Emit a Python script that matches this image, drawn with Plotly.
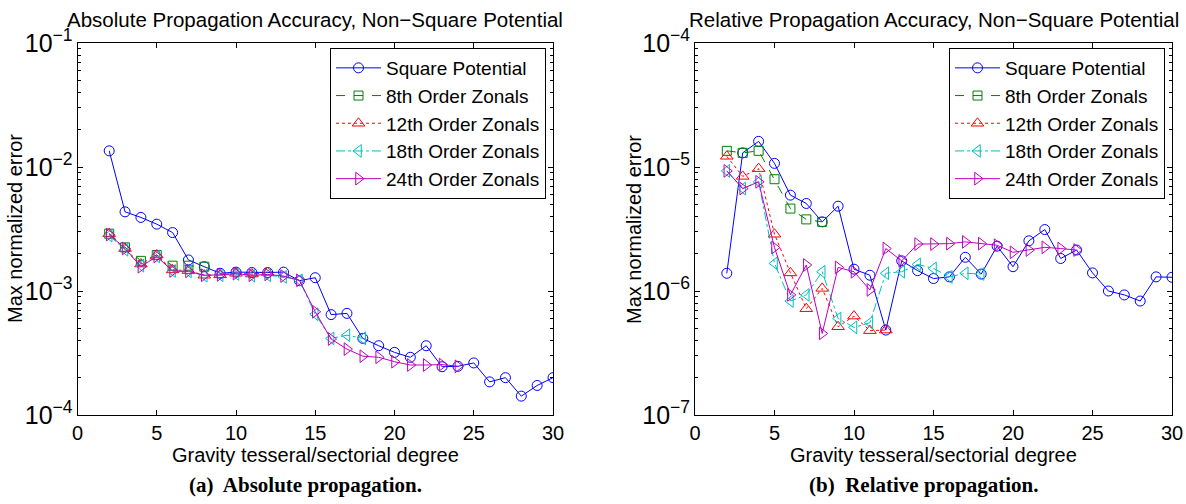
import plotly.graph_objects as go

# ---------------- data ----------------
deg_sq = list(range(2, 31))
deg_z8 = list(range(2, 9))
deg_z12 = list(range(2, 13))
deg_z18 = list(range(2, 19))
deg_z24 = list(range(2, 25))

series_names = ["Square Potential", "8th Order Zonals", "12th Order Zonals",
                "18th Order Zonals", "24th Order Zonals"]

# Absolute propagation
sq_abs = [1.35e-2, 4.35e-3, 3.92e-3, 3.46e-3, 2.96e-3, 1.78e-3, 1.57e-3, 1.39e-3,
          1.42e-3, 1.41e-3, 1.41e-3, 1.42e-3, 1.21e-3, 1.28e-3, 6.45e-4, 6.6e-4,
          4.15e-4, 3.62e-4, 3.2e-4, 2.92e-4, 3.62e-4, 2.45e-4, 2.47e-4, 2.63e-4,
          1.85e-4, 2.0e-4, 1.42e-4, 1.73e-4, 2.0e-4]
z8_abs = [2.9e-3, 2.25e-3, 1.75e-3, 1.95e-3, 1.6e-3, 1.6e-3, 1.57e-3]
z12_abs = [2.9e-3, 2.2e-3, 1.65e-3, 1.95e-3, 1.48e-3, 1.46e-3, 1.34e-3, 1.35e-3,
           1.39e-3, 1.37e-3, 1.41e-3]
z18_abs = [2.8e-3, 2.15e-3, 1.6e-3, 1.9e-3, 1.45e-3, 1.44e-3, 1.33e-3, 1.34e-3,
           1.37e-3, 1.33e-3, 1.34e-3, 1.30e-3, 1.22e-3, 6.5e-4, 4.15e-4, 4.4e-4, 4.15e-4]
z24_abs = [2.85e-3, 2.2e-3, 1.57e-3, 1.9e-3, 1.45e-3, 1.44e-3, 1.34e-3, 1.35e-3,
           1.38e-3, 1.34e-3, 1.36e-3, 1.32e-3, 1.22e-3, 6.8e-4, 4.1e-4, 3.4e-4,
           2.98e-4, 2.92e-4, 2.69e-4, 2.53e-4, 2.53e-4, 2.55e-4, 2.47e-4]

# Relative propagation
sq_rel = [1.39e-6, 1.30e-5, 1.61e-5, 1.07e-5, 5.93e-6, 5.08e-6, 3.61e-6, 4.83e-6,
          1.50e-6, 1.34e-6, 4.84e-7, 1.75e-6, 1.46e-6, 1.26e-6, 1.30e-6, 1.87e-6,
          1.37e-6, 2.30e-6, 1.57e-6, 2.54e-6, 3.13e-6, 1.83e-6, 2.14e-6, 1.40e-6,
          1.0e-6, 9.3e-7, 8.3e-7, 1.30e-6, 1.29e-6]
z8_rel = [1.35e-5, 1.30e-5, 1.35e-5, 7.97e-6, 4.62e-6, 3.78e-6, 3.61e-6]
z12_rel = [1.22e-5, 8.4e-6, 9.7e-6, 2.87e-6, 1.40e-6, 7.2e-7, 1.05e-6, 5.15e-7,
           6.28e-7, 4.79e-7, 4.84e-7]
z18_rel = [9.3e-6, 6.7e-6, 7.6e-6, 1.67e-6, 8.3e-7, 9.3e-7, 1.43e-6, 6.0e-7,
           5.09e-7, 5.55e-7, 1.39e-6, 1.43e-6, 1.64e-6, 1.52e-6, 1.30e-6, 1.39e-6, 1.37e-6]
z24_rel = [9.3e-6, 6.7e-6, 7.6e-6, 2.24e-6, 9.3e-7, 1.62e-6, 4.55e-7, 1.55e-6,
           1.43e-6, 1.02e-6, 2.2e-6, 1.75e-6, 2.39e-6, 2.39e-6, 2.41e-6, 2.49e-6,
           2.41e-6, 2.34e-6, 2.05e-6, 2.14e-6, 2.25e-6, 2.2e-6, 2.14e-6]

x_ticks = [0, 5, 10, 15, 20, 25, 30]
titles = ["Absolute Propagation Accuracy, Non\u2212Square Potential",
          "Relative Propagation Accuracy, Non\u2212Square Potential"]
captions = ["(a)  Absolute propagation.", "(b)  Relative propagation."]
x_title = "Gravity tesseral/sectorial degree"
y_title = "Max normalized error"

# ---------------- styles ----------------
colors = ["rgb(0,0,255)", "rgb(0,128,0)", "rgb(255,0,0)", "rgb(0,191,191)", "rgb(191,0,191)"]
dashes = ["solid", "dash", "dot", "dashdot", "solid"]
symbols = ["circle-open", "square-open", "triangle-up-open", "triangle-left-open",
           "triangle-right-open"]
msizes = [10, 9, 11, 11, 11]

FONT = "Liberation Sans, Arial, sans-serif"
W, H = 1186, 504

fig = go.Figure()

panels = [
    (["x", "y"], [deg_sq, deg_z8, deg_z12, deg_z18, deg_z24],
     [sq_abs, z8_abs, z12_abs, z18_abs, z24_abs], "legend"),
    (["x2", "y2"], [deg_sq, deg_z8, deg_z12, deg_z18, deg_z24],
     [sq_rel, z8_rel, z12_rel, z18_rel, z24_rel], "legend2"),
]

for (xa, ya), xs_list, ys_list, leg in panels:
    for i in range(5):
        fig.add_trace(go.Scatter(
            x=xs_list[i], y=ys_list[i], name=series_names[i],
            mode="lines+markers", xaxis=xa, yaxis=ya, legend=leg,
            line=dict(color=colors[i], width=1, dash=dashes[i]),
            marker=dict(symbol=symbols[i], size=msizes[i], color=colors[i],
                        line=dict(width=1, color=colors[i])),
        ))

# pixel geometry
top_px, bot_px = 43, 415
left_dom = [77.5 / W, 553 / W]
right_dom = [695 / W, 1172 / W]
ydom = [1 - bot_px / H, 1 - top_px / H]

def xaxis_cfg(dom, anchor):
    return dict(domain=dom, anchor=anchor, range=[0, 30], tickvals=x_ticks,
                ticks="inside", ticklen=5, tickcolor="black", mirror="allticks",
                showline=True, linecolor="black", linewidth=1, showgrid=False,
                zeroline=False, tickfont=dict(family=FONT, size=20, color="black"),
                automargin=False)

def yaxis_cfg(rng, anchor):
    return dict(domain=ydom, anchor=anchor, type="log", range=rng, dtick=1,
                exponentformat="power", showexponent="all",
                ticks="inside", ticklen=5, tickcolor="black", mirror="allticks",
                showline=True, linecolor="black", linewidth=1, showgrid=False,
                zeroline=False, tickfont=dict(family=FONT, size=20, color="black"),
                minor=dict(ticks="inside", ticklen=3, tickcolor="black", dtick="D1",
                           showgrid=False),
                automargin=False)

legend_common = dict(bgcolor="white", bordercolor="black", borderwidth=1,
                     font=dict(family=FONT, size=19, color="black"),
                     yanchor="top", xanchor="right", tracegroupgap=0, itemwidth=45)

fig.update_layout(
    width=W, height=H, margin=dict(l=0, r=0, t=0, b=0),
    paper_bgcolor="white", plot_bgcolor="white",
    showlegend=True,
    xaxis=xaxis_cfg(left_dom, "y"),
    yaxis=yaxis_cfg([-4, -1], "x"),
    xaxis2=xaxis_cfg(right_dom, "y2"),
    yaxis2=yaxis_cfg([-7, -4], "x2"),
    legend=dict(x=546 / W, y=1 - 48 / H, **legend_common),
    legend2=dict(x=1165 / W, y=1 - 48 / H, **legend_common),
)

annots = []
for k, dom in enumerate([left_dom, right_dom]):
    cx = (dom[0] + dom[1]) / 2
    annots.append(dict(text=titles[k], x=cx, y=1 - 20 / H, xref="paper", yref="paper",
                       showarrow=False, xanchor="center", yanchor="middle",
                       font=dict(family=FONT, size=20.5, color="black")))
    annots.append(dict(text=x_title, x=cx, y=1 - 455 / H, xref="paper", yref="paper",
                       showarrow=False, xanchor="center", yanchor="middle",
                       font=dict(family=FONT, size=20, color="black")))
    annots.append(dict(text="<b>" + captions[k] + "</b>", x=(305 + 618 * k) / W,
                       y=1 - 485 / H, xref="paper", yref="paper",
                       showarrow=False, xanchor="center", yanchor="middle",
                       font=dict(family="Liberation Serif, Times New Roman, serif",
                                 size=21, color="black")))
    annots.append(dict(text=y_title, x=(15 + 619 * k) / W, y=1 - 229 / H,
                       xref="paper", yref="paper", textangle=-90,
                       showarrow=False, xanchor="center", yanchor="middle",
                       font=dict(family=FONT, size=20, color="black")))
fig.update_layout(annotations=annots)

fig.write_html("out.html")
